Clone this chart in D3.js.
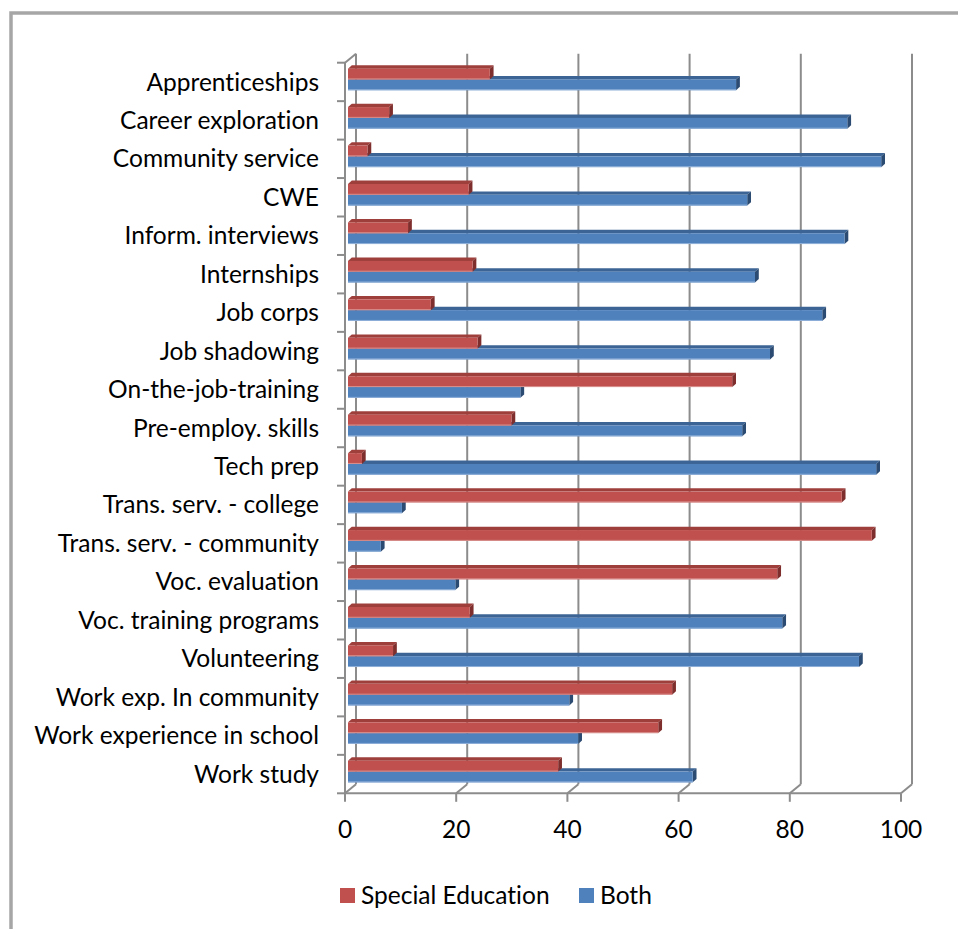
<!DOCTYPE html>
<html><head><meta charset="utf-8">
<script src="https://cdn.jsdelivr.net/npm/d3@7"></script>
<style>body{margin:0;background:#fff}svg{display:block}text{font-variant-ligatures:none;font-feature-settings:"liga" 0,"clig" 0}</style>
</head><body>
<svg id="c" width="958" height="929"></svg>
<script>
const categories = ["Apprenticeships","Career exploration","Community service","CWE","Inform. interviews","Internships","Job corps","Job shadowing","On-the-job-training","Pre-employ. skills","Tech prep","Trans. serv. - college","Trans. serv. - community","Voc. evaluation","Voc. training programs","Volunteering","Work exp. In community","Work experience in school","Work study"];
const specialEducation = [25.5,7.4,3.5,21.7,10.8,22.4,14.9,23.3,69.1,29.4,2.5,88.8,94.2,77.2,21.9,8.1,58.3,55.8,37.8];
const both = [69.8,89.8,95.9,71.8,89.3,73.2,85.3,75.9,31.0,70.9,95.0,9.7,5.9,19.3,78.1,91.9,39.8,41.4,62.0];
const seriesNames = ["Special Education","Both"];
const xTicks = [0,20,40,60,80,100];

const FONT = "Lato, 'Open Sans', sans-serif";
const svg = d3.select("#c");

// font size fitting (Calibri look-alike)
const probe = svg.append("text").attr("font-family",FONT).attr("font-size",20).text("Work experience in school");
const fs = 20*285/probe.node().getComputedTextLength();
probe.remove();

// frame
svg.append("rect").attr("x",11).attr("y",13).attr("width",1000).attr("height",1000)
  .attr("fill","none").attr("stroke","#a6a6a6").attr("stroke-width",3.5);

const x = d3.scaleLinear().domain([0,100]).range([345,901]);
const y = d3.scaleBand().domain(categories).range([62.7,793.3]).padding(0);
const yTop = 62.7, yBot = 793.3;
const DX = 11, DY = -9;           // floor depth
const BX = 3, BY = -2.5;          // bar front-face depth
const TX = 3.8, TY = -3.4;        // bar thickness
const barH = 10.8;
const gridCol = "#8c8c8c";

const g = svg.append("g");
// back wall gridlines
xTicks.forEach(v=>{
  g.append("line").attr("x1",x(v)+DX).attr("x2",x(v)+DX).attr("y1",yTop+DY).attr("y2",yBot+DY)
   .attr("stroke",gridCol).attr("stroke-width",2);
  g.append("line").attr("x1",x(v)).attr("x2",x(v)+DX).attr("y1",yBot).attr("y2",yBot+DY)
   .attr("stroke",gridCol).attr("stroke-width",2);
});
// floor front edge + ticks
g.append("line").attr("x1",x(0)).attr("x2",x(100)).attr("y1",yBot).attr("y2",yBot).attr("stroke",gridCol).attr("stroke-width",2);
xTicks.forEach(v=>{
  g.append("line").attr("x1",x(v)).attr("x2",x(v)).attr("y1",yBot).attr("y2",yBot+8.5).attr("stroke",gridCol).attr("stroke-width",2);
});
// left wall front edge + top diagonal + ticks
g.append("line").attr("x1",x(0)).attr("x2",x(0)).attr("y1",yTop).attr("y2",yBot).attr("stroke",gridCol).attr("stroke-width",2);
g.append("line").attr("x1",x(0)).attr("x2",x(0)+DX).attr("y1",yTop).attr("y2",yTop+DY).attr("stroke",gridCol).attr("stroke-width",2);
const bounds = categories.map(c=>y(c)).concat([yBot]);
bounds.forEach(b=>{
  g.append("line").attr("x1",x(0)-8).attr("x2",x(0)).attr("y1",b).attr("y2",b).attr("stroke",gridCol).attr("stroke-width",2);
});

// bars
const colors = {
  "Special Education":{front:"#c0504d",top:"#9e3f3c",side:"#7e2f2d",edge:"#d9918f"},
  "Both":{front:"#4f81bd",top:"#3c6595",side:"#2c4b72",edge:"#8fb0d8"}
};
const bars = svg.append("g");
categories.forEach((c,i)=>{
  const mid = y(c)+y.bandwidth()/2 + BY;
  const rows = [
    {name:"Both", v:both[i], y0:mid, y1:mid+barH},
    {name:"Special Education", v:specialEducation[i], y0:mid-barH, y1:mid}
  ];
  rows.forEach(r=>{
    const col = colors[r.name];
    const x0 = x(0)+BX, x1 = x(r.v)+BX;
    const gg = bars.append("g");
    gg.append("path").attr("d",`M${x0},${r.y0}L${x1},${r.y0}L${x1+TX},${r.y0+TY}L${x0+TX},${r.y0+TY}Z`).attr("fill",col.top);
    gg.append("path").attr("d",`M${x1},${r.y0}L${x1+TX},${r.y0+TY}L${x1+TX},${r.y1+TY}L${x1},${r.y1}Z`).attr("fill",col.side);
    gg.append("rect").attr("x",x0).attr("y",r.y0).attr("width",x1-x0).attr("height",r.y1-r.y0).attr("fill",col.front);
    gg.append("line").attr("x1",x0).attr("x2",x1).attr("y1",r.y1-0.5).attr("y2",r.y1-0.5).attr("stroke",col.edge).attr("stroke-width",1);
  });
});

// category labels
svg.append("g").selectAll("text").data(categories).join("text")
  .attr("x",319).attr("y",d=>y(d)+y.bandwidth()/2).attr("dy","0.35em")
  .attr("text-anchor","end").attr("font-family",FONT).attr("font-size",fs).attr("fill","#000")
  .text(d=>d);

// x labels
svg.append("g").selectAll("text").data(xTicks).join("text")
  .attr("x",d=>x(d)).attr("y",829).attr("dy","0.35em").attr("text-anchor","middle")
  .attr("font-family",FONT).attr("font-size",fs).attr("fill","#000").text(d=>d);

// legend
const leg = svg.append("g");
const legX = [340,579];
seriesNames.forEach((n,i)=>{
  leg.append("rect").attr("x",legX[i]).attr("y",888).attr("width",15).attr("height",15).attr("fill",colors[n].front);
  leg.append("text").attr("x",legX[i]+21).attr("y",895.5).attr("dy","0.35em").attr("font-family",FONT)
    .attr("font-size",fs).attr("fill","#000").text(n);
});
</script>
</body></html>
